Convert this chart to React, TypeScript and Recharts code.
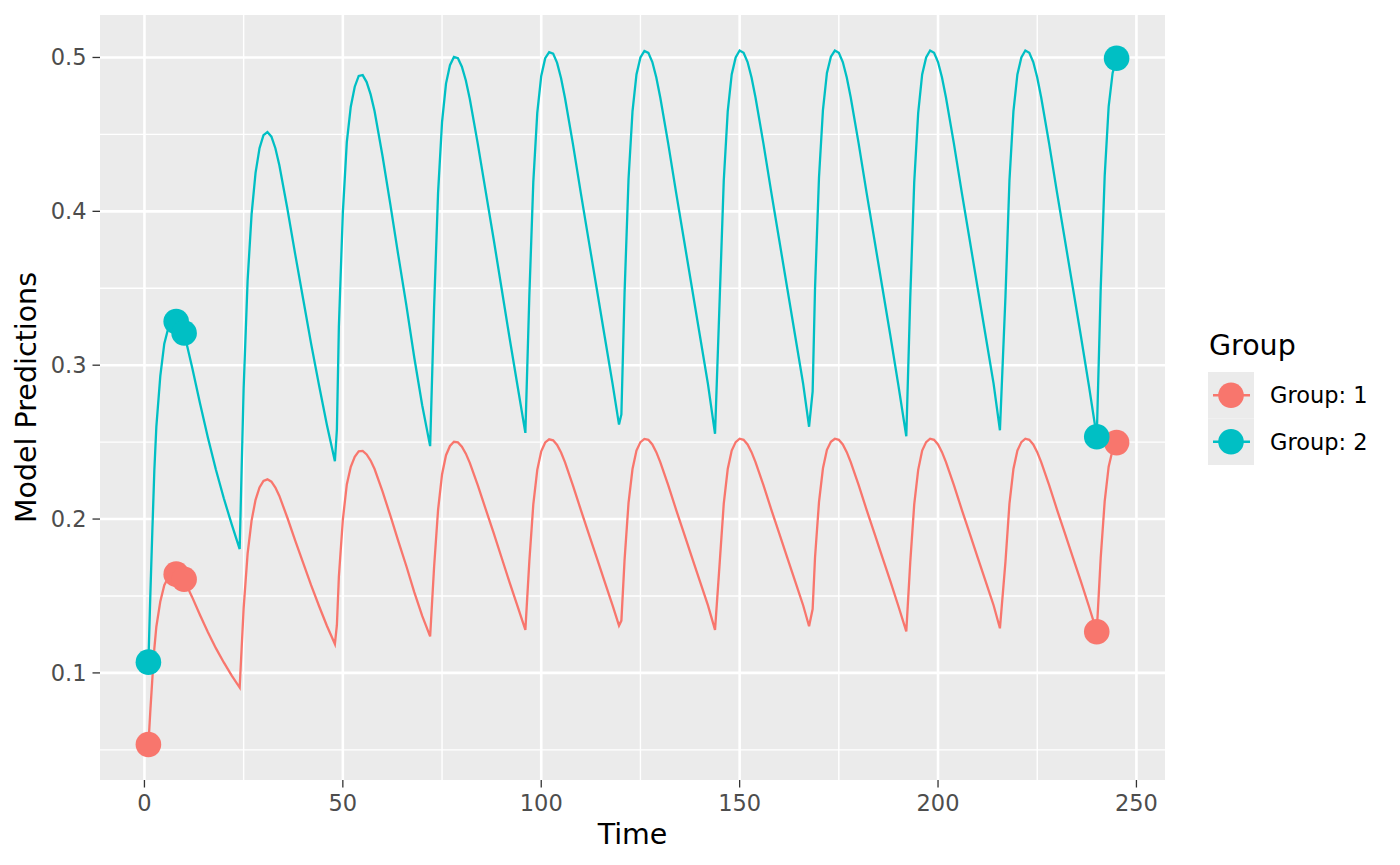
import { LineChart, Line, XAxis, YAxis, CartesianGrid, Label } from 'recharts';

// model prediction sample times, one list per dosing interval
const timeByDose = [
  [1, 1.5, 2, 2.5, 3, 4, 5, 6, 7, 8, 9, 10, 12, 14, 16, 18, 20, 22, 24],
  [25, 26, 27, 28, 29, 30, 31, 32, 33, 34, 36, 38, 40, 42, 44, 46, 48],
  [48.5, 49, 50, 51, 52, 53, 54, 55, 56, 57, 58, 60, 62, 64, 66, 68, 70, 72],
  [73, 74, 75, 76, 77, 78, 79, 80, 81, 82, 84, 86, 88, 90, 92, 94, 96],
  [97, 98, 99, 100, 101, 102, 103, 104, 105, 106, 108, 110, 112, 114, 116, 118, 119.6, 120.2],
  [121, 122, 123, 124, 125, 126, 127, 128, 129, 130, 132, 134, 136, 138, 140, 142, 143.8],
  [145, 146, 147, 148, 149, 150, 151, 152, 153, 154, 156, 158, 160, 162, 164, 166, 167.5, 168.4],
  [169, 170, 171, 172, 173, 174, 175, 176, 177, 178, 180, 182, 184, 186, 188, 190, 192],
  [193, 194, 195, 196, 197, 198, 199, 200, 201, 202, 204, 206, 208, 210, 212, 214, 215.6],
  [217, 218, 219, 220, 221, 222, 223, 224, 225, 226, 228, 230, 232, 234, 236, 238, 240],
  [241, 242, 243, 244, 245],
];

const group1ByDose = [
  [0.0535, 0.076, 0.0965, 0.116, 0.13, 0.1465, 0.157, 0.162, 0.1641, 0.1642, 0.1628, 0.1605, 0.1494, 0.1376, 0.1264, 0.1161, 0.1068, 0.0982, 0.0905],
  [0.142, 0.1775, 0.199, 0.2125, 0.2205, 0.2248, 0.2258, 0.2243, 0.2205, 0.215, 0.201, 0.186, 0.1715, 0.157, 0.1435, 0.1305, 0.1188],
  [0.131, 0.1625, 0.1995, 0.2225, 0.234, 0.2405, 0.244, 0.2443, 0.242, 0.238, 0.2325, 0.218, 0.202, 0.1855, 0.1695, 0.1525, 0.137, 0.1237],
  [0.169, 0.206, 0.229, 0.2415, 0.2475, 0.2502, 0.2498, 0.247, 0.2425, 0.2365, 0.222, 0.2065, 0.191, 0.175, 0.159, 0.1435, 0.128],
  [0.1725, 0.2095, 0.232, 0.244, 0.2498, 0.2518, 0.2512, 0.2482, 0.2432, 0.2368, 0.2218, 0.2058, 0.1902, 0.1748, 0.1592, 0.1438, 0.1307, 0.134],
  [0.1735, 0.2105, 0.2325, 0.2445, 0.25, 0.2521, 0.2515, 0.2485, 0.2435, 0.237, 0.222, 0.206, 0.1905, 0.175, 0.1595, 0.144, 0.128],
  [0.1725, 0.21, 0.2325, 0.2445, 0.25, 0.2522, 0.2515, 0.2485, 0.2435, 0.237, 0.222, 0.206, 0.1905, 0.175, 0.1595, 0.144, 0.1303, 0.1415],
  [0.175, 0.211, 0.233, 0.245, 0.2502, 0.2522, 0.2515, 0.2485, 0.2435, 0.237, 0.222, 0.206, 0.1905, 0.175, 0.1595, 0.1435, 0.127],
  [0.172, 0.2095, 0.232, 0.2445, 0.25, 0.2522, 0.2515, 0.2485, 0.2435, 0.237, 0.222, 0.206, 0.1905, 0.175, 0.1595, 0.144, 0.129],
  [0.1725, 0.21, 0.2325, 0.2445, 0.25, 0.2522, 0.2515, 0.2485, 0.2435, 0.237, 0.222, 0.206, 0.1905, 0.175, 0.1595, 0.1435, 0.1268],
  [0.175, 0.2115, 0.234, 0.245, 0.2497],
];

const group2ByDose = [
  [0.107, 0.152, 0.193, 0.232, 0.26, 0.293, 0.314, 0.324, 0.3283, 0.3284, 0.3255, 0.3209, 0.2988, 0.2752, 0.2528, 0.2322, 0.2135, 0.1965, 0.1805],
  [0.285, 0.355, 0.398, 0.425, 0.441, 0.4495, 0.4515, 0.4485, 0.441, 0.43, 0.402, 0.372, 0.343, 0.314, 0.287, 0.261, 0.2376],
  [0.258, 0.325, 0.399, 0.445, 0.468, 0.481, 0.488, 0.4885, 0.484, 0.476, 0.465, 0.436, 0.404, 0.371, 0.339, 0.305, 0.274, 0.2474],
  [0.338, 0.412, 0.458, 0.483, 0.495, 0.5003, 0.4995, 0.494, 0.485, 0.473, 0.444, 0.413, 0.382, 0.35, 0.318, 0.287, 0.256],
  [0.345, 0.419, 0.464, 0.488, 0.4995, 0.5035, 0.5025, 0.4965, 0.4865, 0.4735, 0.4435, 0.4115, 0.3805, 0.3495, 0.3185, 0.2875, 0.2614, 0.268],
  [0.347, 0.421, 0.465, 0.489, 0.5, 0.5042, 0.503, 0.497, 0.487, 0.474, 0.444, 0.412, 0.381, 0.35, 0.319, 0.288, 0.2554],
  [0.345, 0.42, 0.465, 0.489, 0.5, 0.5045, 0.503, 0.497, 0.487, 0.474, 0.444, 0.412, 0.381, 0.35, 0.319, 0.288, 0.26, 0.283],
  [0.35, 0.422, 0.466, 0.49, 0.5005, 0.5045, 0.503, 0.497, 0.487, 0.474, 0.444, 0.412, 0.381, 0.35, 0.319, 0.287, 0.2538],
  [0.344, 0.419, 0.464, 0.489, 0.5, 0.5045, 0.503, 0.497, 0.487, 0.474, 0.444, 0.412, 0.381, 0.35, 0.319, 0.288, 0.2577],
  [0.345, 0.42, 0.465, 0.489, 0.5, 0.5045, 0.503, 0.497, 0.487, 0.474, 0.444, 0.412, 0.381, 0.35, 0.319, 0.287, 0.2535],
  [0.35, 0.423, 0.468, 0.49, 0.4995],
];

// observed points
const obsTime = [1, 8, 10, 240, 245];
const obsGroup1 = [0.0535, 0.1642, 0.1609, 0.1268, 0.2497];
const obsGroup2 = [0.107, 0.3284, 0.3209, 0.2535, 0.4995];

const xTicks = [0, 50, 100, 150, 200, 250];
const xMinor = [25, 75, 125, 175, 225];
const yTicks = [0.1, 0.2, 0.3, 0.4, 0.5];
const yMinor = [0.05, 0.15, 0.25, 0.35, 0.45];

const groups = [
  { name: 'Group: 1', color: '#F8766D' },
  { name: 'Group: 2', color: '#00BFC4' },
];

const FONT = '"DejaVu Sans", Verdana, sans-serif';

const toRows = (values: number[][]) =>
  timeByDose.flatMap((ts, i) => ts.map((t, j) => ({ time: t, value: values[i][j] })));

const predRows = [toRows(group1ByDose), toRows(group2ByDose)];
const obsRows = [obsGroup1, obsGroup2].map((vals) => obsTime.map((t, i) => ({ time: t, value: vals[i] })));

function XTick({ x, y, payload }: any) {
  return (
    <text x={x} y={y + 23} textAnchor="middle" fill="#4D4D4D" fontSize={22.5} fontFamily={FONT}>
      {payload.value}
    </text>
  );
}

function YTick({ x, y, payload }: any) {
  return (
    <text x={x - 6} y={y + 8} textAnchor="end" fill="#4D4D4D" fontSize={22.5} fontFamily={FONT}>
      {payload.value}
    </text>
  );
}

function LegendBox() {
  return (
    <svg width={1400} height={865} style={{ position: 'absolute', left: 0, top: 0, pointerEvents: 'none' }}>
      <text x={1209} y={355} fontSize={28.5} fontFamily={FONT} fill="#000">Group</text>
      {groups.map((g, i) => {
        const top = 372 + i * 46.5;
        const cy = top + 23.25;
        return (
          <g key={g.name}>
            <rect x={1208} y={top} width={46} height={46.5} fill="#EBEBEB" />
            <line x1={1213} x2={1250} y1={cy} y2={cy} stroke={g.color} strokeWidth={2.3} />
            <circle cx={1231} cy={cy} r={12.8} fill={g.color} />
            <text x={1270} y={cy + 8.2} fontSize={22.5} fontFamily={FONT} fill="#000">{g.name}</text>
          </g>
        );
      })}
    </svg>
  );
}

export default function App() {
  return (
    <div style={{ position: 'relative', width: 1400, height: 865, background: '#fff' }}>
      <style>{'body{margin:0}'}</style>
      <LineChart width={1400} height={865} margin={{ top: 15, right: 235, bottom: 0, left: 0 }}>
        <CartesianGrid
          fill="#EBEBEB"
          stroke="#FFFFFF"
          strokeWidth={1.4}
          horizontalValues={yMinor}
          verticalValues={xMinor}
        />
        <CartesianGrid
          stroke="#FFFFFF"
          strokeWidth={2.6}
          horizontalValues={yTicks}
          verticalValues={xTicks}
        />
        <XAxis
          type="number"
          dataKey="time"
          domain={[-11.2, 257.2]}
          allowDataOverflow
          ticks={xTicks}
          height={85}
          tickSize={7.5}
          tickMargin={0}
          axisLine={false}
          tickLine={{ stroke: '#333333', strokeWidth: 1.3 }}
          tick={<XTick />}
        >
          <Label
            content={(p: any) => {
              const vb = p.viewBox;
              return (
                <text x={vb.x + vb.width / 2} y={vb.y + 64} textAnchor="middle" fontSize={28.5} fontFamily={FONT} fill="#000">
                  Time
                </text>
              );
            }}
          />
        </XAxis>
        <YAxis
          type="number"
          domain={[0.0304, 0.5276]}
          allowDataOverflow
          ticks={yTicks}
          width={100}
          tickSize={7.5}
          tickMargin={0}
          axisLine={false}
          tickLine={{ stroke: '#333333', strokeWidth: 1.3 }}
          tick={<YTick />}
        >
          <Label
            content={(p: any) => {
              const vb = p.viewBox;
              const cy = vb.y + vb.height / 2;
              return (
                <text x={36} y={cy} transform={`rotate(-90 36 ${cy})`} textAnchor="middle" fontSize={28.5} fontFamily={FONT} fill="#000">
                  Model Predictions
                </text>
              );
            }}
          />
        </YAxis>
        {groups.map((g, i) => (
          <Line
            key={`pred-${g.name}`}
            data={predRows[i]}
            dataKey="value"
            type="linear"
            stroke={g.color}
            strokeWidth={2.3}
            dot={false}
            activeDot={false}
            isAnimationActive={false}
          />
        ))}
        {groups.map((g, i) => (
          <Line
            key={`obs-${g.name}`}
            data={obsRows[i]}
            dataKey="value"
            stroke="none"
            dot={{ r: 12.8, fill: g.color, stroke: 'none' }}
            activeDot={false}
            isAnimationActive={false}
          />
        ))}
      </LineChart>
      <LegendBox />
    </div>
  );
}
